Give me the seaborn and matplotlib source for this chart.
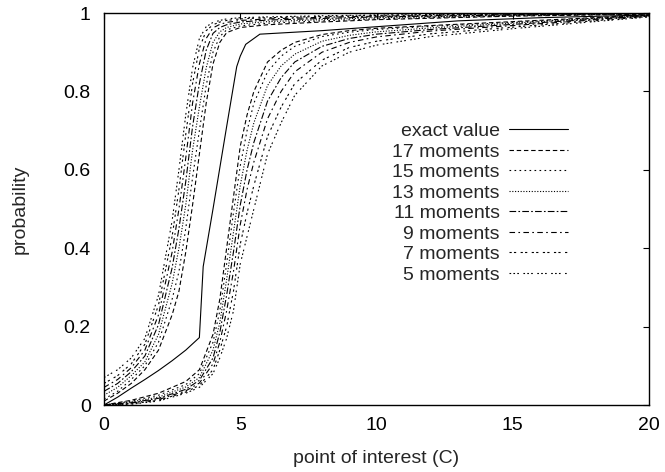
import matplotlib
matplotlib.use("Agg")
import matplotlib.pyplot as plt
import seaborn as sns
import pandas as pd

# ---- data ----
exact_x = [0, 0.5, 1, 1.5, 2, 2.5, 3, 3.5, 3.64, 4.0, 4.5, 4.87, 5.0, 5.2, 5.72, 8, 10, 13, 16, 20]
exact_y = [0.0, 0.02, 0.043, 0.065, 0.088, 0.113, 0.14, 0.172, 0.353, 0.5, 0.71, 0.863, 0.89, 0.92, 0.946, 0.955, 0.965, 0.98, 0.988, 0.995]

# upper bounds (left family)
left_x = [0, 0.5, 1, 1.5, 2, 2.5, 2.75, 3, 3.25, 3.5, 3.75, 4, 4.25, 4.5, 5, 6, 8, 10, 15, 20]
left_17 = [0.01, 0.03, 0.055, 0.09, 0.14, 0.23, 0.29, 0.39, 0.51, 0.64, 0.77, 0.87, 0.925, 0.95, 0.963, 0.97, 0.977, 0.983, 0.992, 0.997]
left_15 = [0.015, 0.035, 0.065, 0.10, 0.16, 0.27, 0.34, 0.45, 0.58, 0.70, 0.815, 0.9, 0.94, 0.957, 0.967, 0.974, 0.98, 0.985, 0.993, 0.998]
left_13 = [0.025, 0.045, 0.075, 0.11, 0.18, 0.31, 0.40, 0.51, 0.65, 0.76, 0.86, 0.925, 0.952, 0.963, 0.972, 0.978, 0.983, 0.988, 0.994, 0.998]
left_11 = [0.035, 0.055, 0.085, 0.125, 0.205, 0.35, 0.45, 0.57, 0.71, 0.82, 0.905, 0.948, 0.963, 0.97, 0.977, 0.982, 0.986, 0.99, 0.995, 0.999]
left_9 = [0.045, 0.065, 0.095, 0.14, 0.23, 0.39, 0.50, 0.63, 0.77, 0.87, 0.935, 0.962, 0.971, 0.976, 0.981, 0.985, 0.989, 0.992, 0.996, 0.999]
left_7 = [0.055, 0.075, 0.105, 0.155, 0.255, 0.43, 0.55, 0.69, 0.82, 0.91, 0.955, 0.97, 0.977, 0.981, 0.985, 0.988, 0.991, 0.994, 0.997, 1.0]
left_5 = [0.07, 0.09, 0.12, 0.17, 0.28, 0.47, 0.60, 0.74, 0.86, 0.935, 0.965, 0.976, 0.981, 0.985, 0.988, 0.99, 0.993, 0.995, 0.998, 1.0]

# lower bounds (right family)
right_x = [0, 1, 2, 3, 3.5, 4, 4.25, 4.5, 4.75, 5, 5.25, 5.5, 6, 6.5, 7, 8, 9, 10, 12, 15, 20]
right_17 = [0.0, 0.012, 0.03, 0.06, 0.09, 0.18, 0.27, 0.4, 0.53, 0.66, 0.74, 0.8, 0.875, 0.905, 0.925, 0.945, 0.955, 0.961, 0.968, 0.978, 0.995]
right_15 = [0.0, 0.01, 0.025, 0.052, 0.08, 0.16, 0.24, 0.36, 0.49, 0.61, 0.70, 0.77, 0.85, 0.89, 0.915, 0.94, 0.951, 0.958, 0.966, 0.976, 0.994]
right_13 = [0.0, 0.008, 0.02, 0.046, 0.07, 0.14, 0.21, 0.32, 0.44, 0.56, 0.65, 0.72, 0.815, 0.865, 0.895, 0.928, 0.943, 0.952, 0.962, 0.974, 0.994]
right_11 = [0.0, 0.006, 0.017, 0.04, 0.063, 0.12, 0.185, 0.28, 0.39, 0.51, 0.60, 0.67, 0.775, 0.835, 0.875, 0.915, 0.935, 0.946, 0.958, 0.971, 0.993]
right_9 = [0.0, 0.005, 0.014, 0.036, 0.056, 0.105, 0.16, 0.24, 0.34, 0.46, 0.55, 0.62, 0.73, 0.8, 0.85, 0.9, 0.925, 0.939, 0.954, 0.968, 0.992]
right_7 = [0.0, 0.003, 0.012, 0.033, 0.05, 0.09, 0.14, 0.2, 0.29, 0.41, 0.49, 0.56, 0.685, 0.76, 0.82, 0.88, 0.912, 0.928, 0.947, 0.964, 0.991]
right_5 = [0.0, 0.002, 0.01, 0.03, 0.045, 0.08, 0.12, 0.17, 0.24, 0.36, 0.43, 0.5, 0.64, 0.72, 0.79, 0.865, 0.9, 0.918, 0.94, 0.96, 0.99]

series_labels = ["17 moments", "15 moments", "13 moments", "11 moments", "9 moments", "7 moments", "5 moments"]
left_series = [left_17, left_15, left_13, left_11, left_9, left_7, left_5]
right_series = [right_17, right_15, right_13, right_11, right_9, right_7, right_5]

x_ticks = [0, 5, 10, 15, 20]
y_ticks = [0, 0.2, 0.4, 0.6, 0.8, 1]
y_tick_labels = ["0", "0.2", "0.4", "0.6", "0.8", "1"]

# ---- style ----
sns.set_style("white")
plt.rcParams["font.family"] = ["Liberation Sans", "DejaVu Sans"]
FS = 14
plt.rcParams["font.size"] = FS

styles = [
    (0, (4, 2.5)),
    (0, (1.5, 3)),
    (0, (1, 1.5)),
    (0, (6, 2, 1.5, 2)),
    (0, (5, 3, 1.5, 3)),
    (0, (2, 2, 2, 4)),
    (0, (1.5, 2, 1.5, 2, 1.5, 4)),
]
LW = 0.8

fig = plt.figure(figsize=(6.65, 4.72), dpi=100)
ax = fig.add_axes([104 / 665, 1 - 405 / 472, 545 / 665, 392 / 472])

handles = []
df_exact = pd.DataFrame({"x": exact_x, "y": exact_y})
sns.lineplot(data=df_exact, x="x", y="y", ax=ax, color="black", lw=LW, sort=False,
             estimator=None)
handles.append(ax.get_lines()[-1])

for lab, ls, ly, ry in zip(series_labels, styles, left_series, right_series):
    dl = pd.DataFrame({"x": left_x, "y": ly})
    dr = pd.DataFrame({"x": right_x, "y": ry})
    sns.lineplot(data=dl, x="x", y="y", ax=ax, color="black", lw=LW, linestyle=ls,
                 sort=False, estimator=None)
    handles.append(ax.get_lines()[-1])
    sns.lineplot(data=dr, x="x", y="y", ax=ax, color="black", lw=LW, linestyle=ls,
                 sort=False, estimator=None)

labels = ["exact value"] + series_labels
ax.legend(handles, labels, loc="upper right", bbox_to_anchor=(0.851, 0.721),
          frameon=False, markerfirst=False, handlelength=3.0, handletextpad=0.5,
          labelspacing=0.15, borderpad=0, borderaxespad=0, fontsize=FS)

ax.set_xlim(0, 20)
ax.set_ylim(0, 1)
ax.set_xticks(x_ticks)
ax.set_xticklabels([str(v) for v in x_ticks])
ax.set_yticks(y_ticks)
ax.set_yticklabels(y_tick_labels)
ax.tick_params(direction="in", length=4, width=0.8, top=True, right=True,
               labelsize=FS, colors="black")
ax.tick_params(axis="y", pad=9.5)
ax.tick_params(axis="x", pad=8.5)
for s in ax.spines.values():
    s.set_visible(True)
    s.set_color("black")
    s.set_linewidth(1.0)

ax.set_xlabel("point of interest (C)", fontsize=FS, labelpad=12)
ax.set_ylabel("probability", fontsize=FS, labelpad=25)

fig.savefig("out.png", dpi=100)
